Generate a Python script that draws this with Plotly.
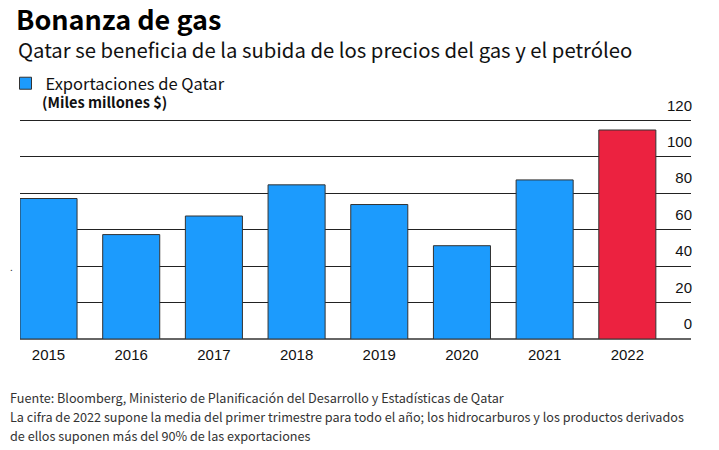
import plotly.graph_objects as go

years = ["2015", "2016", "2017", "2018", "2019", "2020", "2021", "2022"]
exports = [77.1, 57.3, 67.5, 84.6, 73.8, 51.2, 87.3, 114.7]
highlight_year = "2022"
y_ticks = [0, 20, 40, 60, 80, 100, 120]

BLUE = "#1c9bfd"
RED = "#ec2240"
colors = [RED if y == highlight_year else BLUE for y in years]

W, H = 719, 450
ML, MR, MT, MB = 20, 28, 93, 111
PW, PH = W - ML - MR, H - MT - MB


def px(x):
    return (x - ML) / PW


def py(y):
    return (H - MB - y) / PH


fig = go.Figure()
fig.add_trace(go.Bar(
    x=years, y=exports, name="Exportaciones de Qatar",
    marker=dict(color=colors, line=dict(color="#333333", width=1)),
    showlegend=True,
))

TXT_FONT = "Noto Sans CJK KR"
fig.update_layout(
    width=W, height=H,
    margin=dict(l=ML, r=MR, t=MT, b=MB, pad=0, autoexpand=False),
    paper_bgcolor="white", plot_bgcolor="white",
    bargap=0.31,
    title=dict(text="<b>Bonanza de gas</b>", xref="container", yref="container",
               x=16 / W, y=1 - 21 / H, xanchor="left", yanchor="middle",
               font=dict(family=TXT_FONT, size=27, color="#000")),
    legend=dict(xref="container", yref="container", x=5.5 / W, y=1 - 83.5 / H,
                xanchor="left", yanchor="middle",
                font=dict(family=TXT_FONT, size=16.5, color="#111"),
                bgcolor="rgba(0,0,0,0)"),
    xaxis=dict(type="category", range=[-0.345, 7.77], showgrid=False,
               showline=False, ticks="", zeroline=False, automargin=False,
               ticklabelstandoff=5,
               tickfont=dict(family="Liberation Sans", size=15, color="#111")),
    yaxis=dict(range=[0, 135], side="right", tickvals=y_ticks,
               ticklabelposition="inside", ticklabelshift=-15,
               ticklabelstandoff=-4, automargin=False,
               showgrid=True, gridcolor="#222", gridwidth=1,
               zeroline=True, zerolinecolor="#666", zerolinewidth=1.5,
               showline=False, ticks="",
               tickfont=dict(family="Liberation Sans", size=15, color="#111")),
)

ann = [
    dict(text="Qatar se beneficia de la subida de los precios del gas y el petróleo",
         x=px(16), y=py(49), size=20.3, color="#111"),
    dict(text="<b>(Miles millones $)</b>", x=px(40), y=py(101.5), size=14.6, color="#111"),
    dict(text="Fuente: Bloomberg, Ministerio de Planificación del Desarrollo y Estadísticas de Qatar",
         x=px(8), y=py(397), size=12.65, color="#333"),
    dict(text="La cifra de 2022 supone la media del primer trimestre para todo el año; los hidrocarburos y los productos derivados",
         x=px(8), y=py(416.5), size=12.65, color="#333"),
    dict(text="de ellos suponen más del 90% de las exportaciones",
         x=px(8), y=py(435), size=12.65, color="#333"),
    dict(text=".", x=px(8), y=py(266), size=10, color="#333"),
]
for a in ann:
    fig.add_annotation(text=a["text"], xref="paper", yref="paper", x=a["x"], y=a["y"],
                       xanchor="left", yanchor="middle", showarrow=False,
                       font=dict(family=TXT_FONT, size=a["size"], color=a["color"]))

fig.write_html("out.html", config={"displayModeBar": False},
               post_script="document.body.style.margin='0';")
